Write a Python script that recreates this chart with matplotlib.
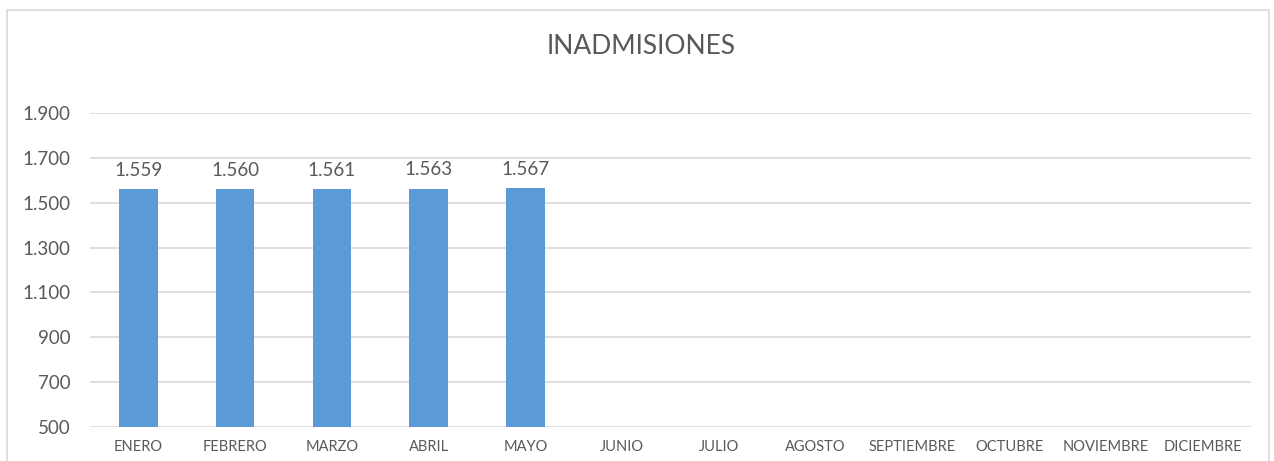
import matplotlib.pyplot as plt
from matplotlib.patches import Rectangle

meses = ['ENERO', 'FEBRERO', 'MARZO', 'ABRIL', 'MAYO', 'JUNIO', 'JULIO',
         'AGOSTO', 'SEPTIEMBRE', 'OCTUBRE', 'NOVIEMBRE', 'DICIEMBRE']
valores = [1559, 1560, 1561, 1563, 1567]
yticks = [500, 700, 900, 1100, 1300, 1500, 1700, 1900]

def fmt(v):
    # separador de miles con punto
    return '{:,}'.format(v).replace(',', '.')

plt.rcParams['font.family'] = ['Lato', 'DejaVu Sans']
gris = '#595959'

fig = plt.figure(figsize=(12.74, 4.61), dpi=100)
fig.patches.append(Rectangle((7/1274, -0.01), 1262/1274, 1 - 10/461 + 0.01,
                             transform=fig.transFigure, fill=False,
                             edgecolor='#D9D9D9', linewidth=1.2))

ax = fig.add_axes([90/1274, 1 - 427/461, (1251 - 90)/1274, (427 - 113)/461])
x = list(range(len(meses)))
barras = ax.bar(x[:len(valores)], valores, width=0.4, color='#5B9BD5', zorder=3)
for b, v in zip(barras, valores):
    ax.text(b.get_x() + b.get_width()/2, v + 45, fmt(v), ha='center', va='bottom',
            fontsize=13.5, color=gris)

ax.set_xlim(-0.5, len(meses) - 0.5)
ax.set_ylim(500, 1900)
ax.set_yticks(yticks)
ax.set_yticklabels([fmt(t) for t in yticks], fontsize=13.5, color=gris)
ax.set_xticks(x)
ax.set_xticklabels(meses, fontsize=10.5, color=gris)
ax.tick_params(length=0)
ax.tick_params(axis='y', pad=14)
ax.tick_params(axis='x', pad=9)
ax.grid(axis='y', color='#D9D9D9', linewidth=1.2, zorder=0)
for s in ax.spines.values():
    s.set_visible(False)

fig.text(641/1274, 1 - 47/461, 'INADMISIONES', ha='center', va='center',
         fontsize=19, color=gris)

fig.savefig('out.png', dpi=100)
